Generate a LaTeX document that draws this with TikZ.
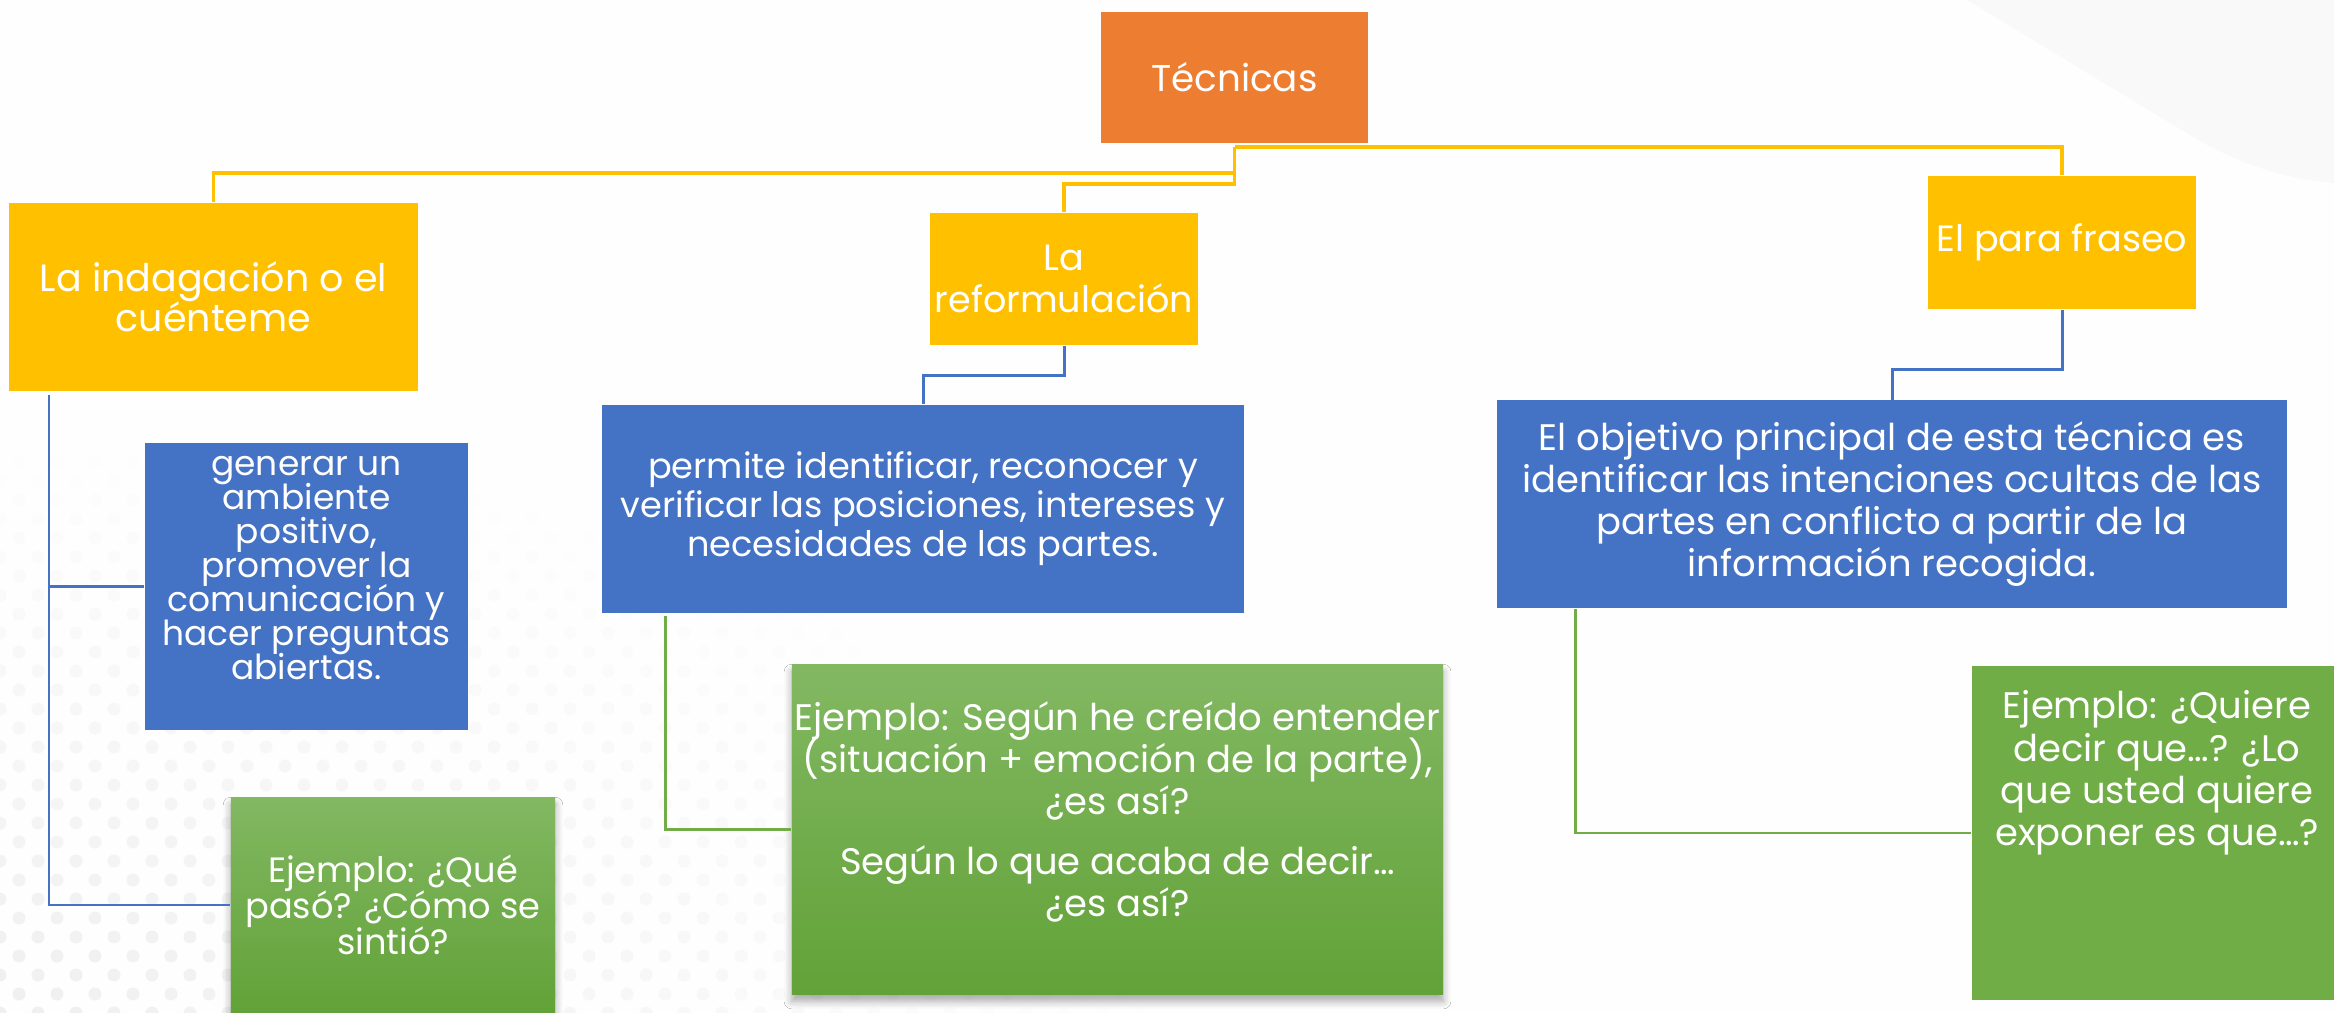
\documentclass[tikz,border=0pt]{standalone}
\usepackage{fontspec}
\setmainfont{Poppins}
\usetikzlibrary{positioning,shadows.blur}

\definecolor{tecorange}{HTML}{ED7D31}
\definecolor{tecyellow}{HTML}{FFC000}
\definecolor{tecblue}{HTML}{4472C4}
\definecolor{tecgreen}{HTML}{70AD47}
\definecolor{greentop}{HTML}{82B862}
\definecolor{greenbot}{HTML}{62A238}
\definecolor{paper}{HTML}{FEFEFE}

\newcommand{\boxfont}[2]{\fontsize{#1}{#2}\selectfont\lineskiplimit=-\maxdimen}

\tikzset{
    tbox/.style={text=white, align=center, inner sep=0pt},
    orangebox/.style={tbox, fill=tecorange},
    yellowbox/.style={tbox, fill=tecyellow, font=\boxfont{10.4}{12}},
    bluebox/.style={tbox, fill=tecblue, font=\boxfont{10}{11.1}},
    greenbox/.style={tbox, top color=greentop, bottom color=greenbot, font=\boxfont{10.5}{12},
        blur shadow={shadow blur steps=6, shadow xshift=0pt, shadow yshift=-2pt, shadow opacity=35}},
    yline/.style={draw=tecyellow, line width=1.1pt},
    bline/.style={draw=tecblue, line width=0.85pt},
    gline/.style={draw=tecgreen, line width=0.85pt}
}

\begin{document}
\begin{tikzpicture}[x=0.01cm, y=-0.01cm]
        \clip (0,0) rectangle (2334,1013);
        \fill[paper] (0,0) rectangle (2334,1013);
        \fill[gray!5] (1967,0) -- (2190,135) .. controls (2240,165) and (2290,180) .. (2334,183) -- (2334,0) -- cycle;
        \foreach \i in {0,...,32}{
            \foreach \j in {0,...,29}{
                \pgfmathsetmacro{\dotx}{\i*38+mod(\j,2)*19}
                \pgfmathsetmacro{\doty}{1013-\j*19}
                \pgfmathsetmacro{\dotop}{max(0,1-sqrt((\dotx/1150)^2+((1013-\doty)/570)^2))}
                \fill[gray!12, opacity=\dotop] (\dotx,\doty) circle (0.065cm);
            }
        }

        \node[orangebox, minimum width=2.67cm, minimum height=1.31cm, font=\boxfont{10.6}{12}] (Tecnicas) at (1234.5,77.5) {Técnicas};
        \node[yellowbox, minimum width=4.09cm, minimum height=1.88cm, font=\boxfont{10.8}{11.4}] (Indagacion) at (213.5,297) {La indagación o el\\cuénteme};
        \node[yellowbox, minimum width=2.68cm, minimum height=1.32cm] (Reformulacion) at (1064,279) {La\\reformulación};
        \node[yellowbox, minimum width=2.68cm, minimum height=1.33cm] (Parafraseo) at (2062,242.5) {El para fraseo};

        \node[bluebox, minimum width=3.23cm, minimum height=2.87cm] (Ambiente) at (306.5,586.5) {};
        \node[tbox, font=\boxfont{9.8}{9.7}] (AmbienteText) at (306.5,568) {generar un\\ambiente\\positivo,\\promover la\\comunicación y\\hacer preguntas\\abiertas.};
        \node[bluebox, minimum width=6.42cm, minimum height=2.08cm] (Verificar) at (923,509) {permite identificar, reconocer y\\verificar las posiciones, intereses y\\necesidades de las partes.};
        \node[bluebox, minimum width=7.9cm, minimum height=2.07cm, font=\boxfont{10.5}{12}] (Objetivo) at (1892,504) {El objetivo principal de esta técnica es\\identificar las intenciones ocultas de las\\partes en conflicto a partir de la\\información recogida.};

        \node[greenbox, minimum width=3.24cm, minimum height=2.14cm, font=\boxfont{10}{10.2}] (EjemploA) at (393,905) {Ejemplo: ¿Qué\\pasó? ¿Cómo se\\sintió?};
        \node[greenbox, minimum width=6.51cm, minimum height=3.29cm] (EjemploB) at (1117.5,829.5) {};
        \node[tbox, font=\boxfont{10.5}{12}] (EjemploBText) at (1117.5,812) {Ejemplo: Según he creído entender\\(situación + emoción de la parte),\\¿es así?\\[5pt]Según lo que acaba de decir…\\¿es así?};
        \node[tbox, fill=tecgreen, minimum width=3.7cm, minimum height=3.34cm] (EjemploC) at (2157,833) {};
        \node[tbox, font=\boxfont{10.5}{12}] (EjemploCText) at (2157,773) {Ejemplo: ¿Quiere\\decir que…? ¿Lo\\que usted quiere\\exponer es que…?};

        \draw[yline] (Tecnicas.south) ++(0,3) -| (Parafraseo.north);
        \draw[yline] (Tecnicas.south) ++(0,3) -- ++(0,26) -| (Indagacion.north);
        \draw[yline] (Tecnicas.south) ++(0,29) -- ++(0,11) -| (Reformulacion.north);

        \coordinate (TrunkL) at (49,395);
        \draw[bline] (TrunkL) |- (EjemploA.west);
        \draw[bline] (TrunkL |- Ambiente.west) -- (Ambiente.west);
        \draw[bline] (Reformulacion.south) -- ++(0,30) -| (Verificar.north);
        \draw[bline] (Parafraseo.south) -- ++(0,60) -| (Objetivo.north);

        \coordinate (TrunkM) at (665,616);
        \draw[gline] (TrunkM) |- (EjemploB.west);
        \coordinate (TrunkR) at (1575,609);
        \draw[gline] (TrunkR) |- (EjemploC.west);
    \end{tikzpicture}
\end{document}
